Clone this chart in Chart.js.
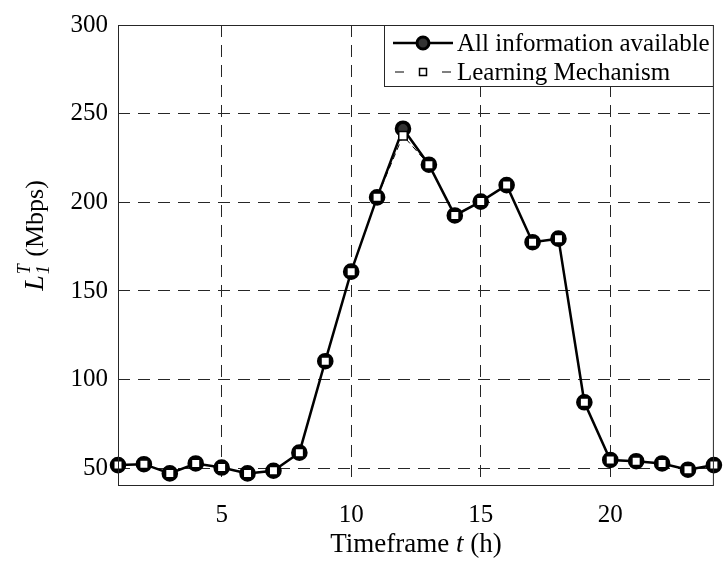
<!DOCTYPE html>
<html>
<head>
<meta charset="utf-8">
<script src="https://cdn.jsdelivr.net/npm/chart.js@4.4.1/dist/chart.umd.min.js"></script>
<style>
    html, body { margin: 0; padding: 0; background: #fff; }
    #wrap { width: 724px; height: 563px; }
</style>
</head>
<body>
<div id="wrap"><canvas id="loadChart"></canvas></div>
<script>
// hourly load per timeframe (Mbps)
const hours = [1, 2, 3, 4, 5, 6, 7, 8, 9, 10, 11, 12, 13, 14, 15, 16, 17, 18, 19, 20, 21, 22, 23, 24];
const allInfo = [51.8, 52.3, 47.1, 52.7, 50.4, 47.1, 48.6, 58.8, 110.4, 160.9, 202.8, 241.5,
    221.2, 192.6, 200.4, 209.7, 177.5, 179.5, 87.2, 54.7, 54.0, 52.7, 49.2, 51.8];
const learning = [51.8, 52.3, 47.1, 52.7, 50.4, 47.1, 48.6, 58.8, 110.4, 160.9, 202.8, 237.6,
    221.2, 192.6, 200.4, 209.7, 177.5, 179.5, 87.2, 54.7, 54.0, 52.7, 49.2, 51.8];
const xTicks = [5, 10, 15, 20];
const yTicks = [50, 100, 150, 200, 250, 300];
const seriesNames = ['All information available', 'Learning Mechanism'];

const SERIF = "'Liberation Serif', 'Times New Roman', serif";
const INK = '#262626';

const toPoints = (ys) => hours.map((h, i) => ({ x: h, y: ys[i] }));

// box, axis titles and legend drawn on top of the plot
const decorations = {
    id: 'decorations',
    afterDraw(chart) {
        const ctx = chart.ctx;
        const { left, top, right, bottom } = chart.chartArea;

        ctx.save();
        ctx.strokeStyle = INK;
        ctx.lineWidth = 1;
        ctx.strokeRect(left + 0.5, top + 0.5, right - left - 1, bottom - top - 1);

        ctx.fillStyle = '#000';
        ctx.textBaseline = 'alphabetic';

        // x title: Timeframe t (h)
        const xParts = [
            { t: 'Timeframe ', f: `27px ${SERIF}` },
            { t: 't', f: `italic 27px ${SERIF}` },
            { t: ' (h)', f: `27px ${SERIF}` }
        ];
        let w = 0;
        xParts.forEach(p => { ctx.font = p.f; w += ctx.measureText(p.t).width; });
        let x = (left + right) / 2 - w / 2;
        xParts.forEach(p => {
            ctx.font = p.f;
            ctx.textAlign = 'left';
            ctx.fillText(p.t, x, 552);
            x += ctx.measureText(p.t).width;
        });

        // y title: L^T_1 (Mbps), rotated
        ctx.save();
        ctx.translate(43, (top + bottom) / 2 - 20);
        ctx.rotate(-Math.PI / 2);
        ctx.textAlign = 'left';
        ctx.font = `italic 28px ${SERIF}`;
        const wL = ctx.measureText('L').width;
        ctx.font = `italic 18px ${SERIF}`;
        const wS = Math.max(ctx.measureText('T').width, ctx.measureText('1').width);
        ctx.font = `26px ${SERIF}`;
        const wU = ctx.measureText(' (Mbps)').width;
        let s = -(wL + wS + 2 + wU) / 2;
        ctx.font = `italic 28px ${SERIF}`;
        ctx.fillText('L', s, 0);
        s += wL + 1;
        ctx.font = `italic 18px ${SERIF}`;
        ctx.fillText('T', s, -13);
        ctx.fillText('1', s, 6);
        s += wS + 1;
        ctx.font = `26px ${SERIF}`;
        ctx.fillText(' (Mbps)', s, 0);
        ctx.restore();

        // legend
        const lx = 384, ly = top, lw = right - lx, lh = 62;
        ctx.fillStyle = '#fff';
        ctx.fillRect(lx, ly, lw, lh);
        ctx.strokeStyle = INK;
        ctx.lineWidth = 1;
        ctx.strokeRect(lx + 0.5, ly + 0.5, lw - 1, lh - 1);

        const rows = [ly + 18, ly + 47];
        const mx = 423;

        // row 1: solid line, filled circle
        ctx.strokeStyle = '#000';
        ctx.lineWidth = 2.5;
        ctx.beginPath();
        ctx.moveTo(393, rows[0]);
        ctx.lineTo(453, rows[0]);
        ctx.stroke();
        ctx.beginPath();
        ctx.arc(mx, rows[0], 6, 0, Math.PI * 2);
        ctx.fillStyle = '#333';
        ctx.fill();
        ctx.lineWidth = 3;
        ctx.stroke();

        // row 2: dashed line, open square
        ctx.lineWidth = 1.2;
        ctx.beginPath();
        ctx.moveTo(395, rows[1]); ctx.lineTo(404, rows[1]);
        ctx.moveTo(442, rows[1]); ctx.lineTo(451, rows[1]);
        ctx.stroke();
        ctx.fillStyle = '#fff';
        ctx.fillRect(mx - 3.5, rows[1] - 3.5, 7, 7);
        ctx.lineWidth = 1.5;
        ctx.strokeRect(mx - 3.5, rows[1] - 3.5, 7, 7);

        ctx.fillStyle = '#000';
        ctx.font = `25px ${SERIF}`;
        ctx.textBaseline = 'middle';
        ctx.fillText(seriesNames[0], 457, rows[0] + 1);
        ctx.fillText(seriesNames[1], 457, rows[1] + 1);

        ctx.restore();
    }
};

new Chart(document.getElementById('loadChart'), {
    type: 'line',
    data: {
        datasets: [
            {
                label: seriesNames[0],
                data: toPoints(allInfo),
                borderColor: '#000',
                borderWidth: 2.5,
                pointStyle: 'circle',
                pointRadius: 6.5,
                pointBorderWidth: 3.6,
                pointBackgroundColor: '#333',
                pointBorderColor: '#000',
                tension: 0,
                clip: false,
                order: 1
            },
            {
                label: seriesNames[1],
                data: toPoints(learning),
                borderColor: '#000',
                borderWidth: 1,
                borderDash: [6, 4],
                pointStyle: 'rect',
                pointRadius: 6,
                pointBorderWidth: 1.5,
                pointBackgroundColor: '#fff',
                pointBorderColor: '#000',
                tension: 0,
                clip: false,
                order: 0
            }
        ]
    },
    options: {
        responsive: true,
        maintainAspectRatio: false,
        animation: false,
        events: [],
        layout: {
            padding: { left: 0, top: 19, right: 9, bottom: 0 }
        },
        scales: {
            x: {
                type: 'linear',
                min: 1,
                max: 24,
                afterBuildTicks: axis => { axis.ticks = xTicks.map(v => ({ value: v })); },
                afterFit: axis => { axis.height = 77; },
                grid: { color: INK, lineWidth: 1, drawTicks: false },
                border: { display: false, dash: [12, 8] },
                ticks: {
                    padding: 14,
                    color: '#000',
                    font: { family: SERIF, size: 25 }
                }
            },
            y: {
                type: 'linear',
                min: 40,
                max: 300,
                afterBuildTicks: axis => { axis.ticks = yTicks.map(v => ({ value: v })); },
                afterFit: axis => { axis.width = 118; },
                grid: { color: INK, lineWidth: 1, drawTicks: false },
                border: { display: false, dash: [12, 8] },
                ticks: {
                    padding: 10,
                    color: '#000',
                    font: { family: SERIF, size: 25 }
                }
            }
        },
        plugins: {
            legend: { display: false },
            tooltip: { enabled: false }
        }
    },
    plugins: [decorations]
});
</script>
</body>
</html>
